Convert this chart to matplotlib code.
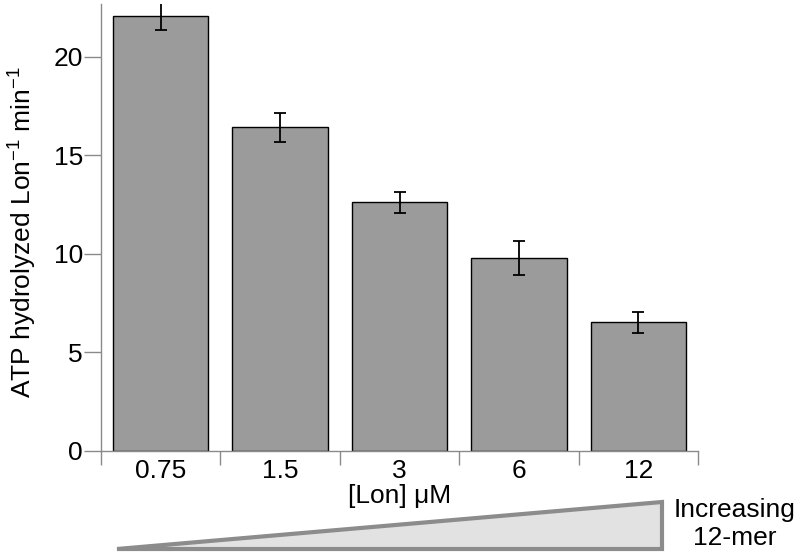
import matplotlib.pyplot as plt
import numpy as np
from matplotlib.patches import Polygon

plt.rcParams['font.family'] = ['Liberation Sans', 'DejaVu Sans']
plt.rcParams['mathtext.fontset'] = 'custom'
plt.rcParams['mathtext.rm'] = 'Liberation Sans'

# Data
conc_labels = ['0.75', '1.5', '3', '6', '12']
atp_rate = [22.05, 16.41, 12.61, 9.78, 6.52]
atp_err = [0.68, 0.76, 0.55, 0.86, 0.55]
y_ticks = [0, 5, 10, 15, 20]

axis_grey = '#8a8a8a'

fig = plt.figure(figsize=(8.02, 5.55), dpi=100)
ax = fig.add_axes([101 / 802, 104 / 555, 597 / 802, 447.5 / 555])

x = np.arange(len(conc_labels))
ax.bar(x, atp_rate, width=0.8, color='#9b9b9b', edgecolor='black', linewidth=1.0, zorder=2)
ax.errorbar(x, atp_rate, yerr=atp_err, fmt='none', ecolor='black',
            elinewidth=1.3, capsize=4.5, capthick=1.3, zorder=3)

ax.set_xlim(-0.5, len(conc_labels) - 0.5)
ax.set_ylim(0, 22.7)

# ticks at the category borders, labels at the centres
ax.set_xticks(np.arange(-0.5, len(conc_labels)), labels=[])
ax.set_xticks(x, labels=conc_labels, minor=True)
ax.tick_params(axis='x', which='major', length=10, width=1, color=axis_grey)
ax.tick_params(axis='x', which='minor', length=0, labelsize=19, pad=6)
ax.set_yticks(y_ticks)
ax.tick_params(axis='y', length=12, width=1, color=axis_grey, labelsize=19, pad=1)

for side in ['top', 'right']:
    ax.spines[side].set_visible(False)
for side in ['left', 'bottom']:
    ax.spines[side].set_color(axis_grey)
    ax.spines[side].set_linewidth(1)

ax.set_ylabel('ATP hydrolyzed Lon$^{\\mathregular{-1}}$ min$^{\\mathregular{-1}}$', fontsize=19)
ax.yaxis.set_label_coords(-0.106, 0.49)

fig.text(400 / 802, 1 - 496 / 555, '[Lon] \u03bcM', fontsize=19, ha='center', va='center')

# wedge showing increasing 12-mer
tri = Polygon([[117 / 802, 1 - 549 / 555], [662 / 802, 1 - 502 / 555], [662 / 802, 1 - 549 / 555]],
              closed=True, transform=fig.transFigure, facecolor='#e2e2e2',
              edgecolor='#8c8c8c', linewidth=3, joinstyle='miter')
fig.patches.append(tri)
fig.text(735 / 802, 1 - 524 / 555, 'Increasing\n12-mer', fontsize=19, ha='center',
         va='center', linespacing=1.25)

fig.savefig('out.png', dpi=100)
